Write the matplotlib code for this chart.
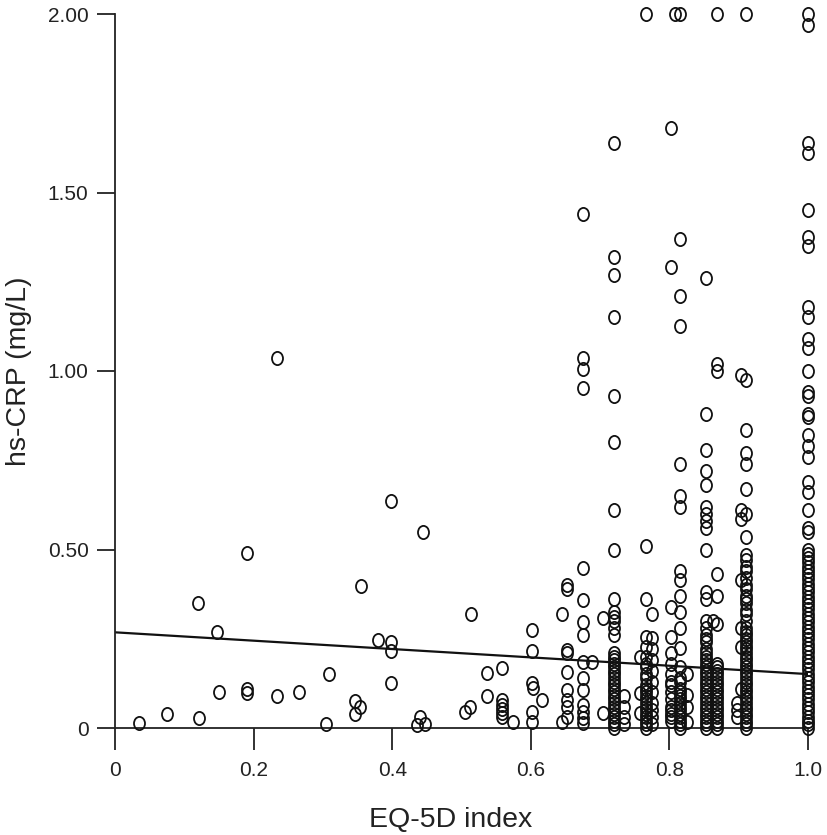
import matplotlib
matplotlib.use('Agg')
import matplotlib.pyplot as plt
from matplotlib.path import Path
from matplotlib.transforms import Affine2D
import numpy as np

plt.rcParams['font.family'] = ['Liberation Sans', 'DejaVu Sans']

# sparse points (EQ-5D index, hs-CRP)
sparse_x = [0.035, 0.075, 0.121, 0.120, 0.147, 0.150, 0.190, 0.190, 0.190, 0.234,
            0.234, 0.266, 0.304, 0.309, 0.346, 0.354, 0.346, 0.355, 0.380, 0.398,
            0.398, 0.398, 0.398, 0.436, 0.440, 0.447, 0.444, 0.505, 0.512, 0.514,
            0.537, 0.537, 0.558, 0.558, 0.558, 0.558, 0.558, 0.558, 0.574, 0.602,
            0.602, 0.602, 0.603, 0.616, 0.602, 0.602, 0.645, 0.645, 0.689, 0.704,
            0.704, 0.757, 0.757, 0.757, 0.808, 0.825, 0.825, 0.825, 0.825, 0.863,
            0.898, 0.898, 0.898, 0.904, 0.904, 0.904, 0.904, 0.904, 0.904, 0.904,
            0.735, 0.735, 0.735, 0.735]
sparse_y = [0.014, 0.039, 0.028, 0.350, 0.269, 0.101, 0.109, 0.098, 0.490, 1.036,
            0.090, 0.101, 0.011, 0.151, 0.076, 0.059, 0.039, 0.398, 0.246, 0.241,
            0.216, 0.126, 0.636, 0.008, 0.031, 0.011, 0.549, 0.045, 0.059, 0.319,
            0.154, 0.090, 0.168, 0.078, 0.064, 0.053, 0.042, 0.031, 0.017, 0.275,
            0.216, 0.126, 0.112, 0.078, 0.045, 0.017, 0.319, 0.017, 0.185, 0.308,
            0.042, 0.200, 0.098, 0.042, 2.000, 0.092, 0.017, 0.150, 0.060, 0.300,
            0.070, 0.050, 0.030, 0.990, 0.610, 0.585, 0.415, 0.280, 0.227, 0.110,
            0.090, 0.060, 0.030, 0.010]

# stacked columns at common index values
x_0652 = 0.652
y_0652 = [0.400, 0.390, 0.218, 0.210, 0.157, 0.106, 0.078, 0.059, 0.031]
x_0675 = 0.675
y_0675 = [1.440, 1.036, 1.006, 0.952, 0.448, 0.359, 0.297, 0.260, 0.185, 0.140,
          0.106, 0.064, 0.045, 0.028, 0.014]
x_0720 = 0.720
y_0720 = [1.640, 1.320, 1.270, 1.150, 0.930, 0.800, 0.610, 0.500, 0.360, 0.325,
          0.310, 0.300, 0.280, 0.260, 0.210, 0.200, 0.190, 0.180, 0.170, 0.160,
          0.150, 0.140, 0.130, 0.120, 0.110, 0.100, 0.090, 0.080, 0.070, 0.060,
          0.050, 0.040, 0.030, 0.020, 0.010, 0.000]
x_0766 = 0.766
y_0766 = [2.000, 0.510, 0.360, 0.255, 0.227, 0.200, 0.180, 0.170, 0.150, 0.140,
          0.120, 0.110, 0.100, 0.090, 0.080, 0.070, 0.060, 0.050, 0.040, 0.030,
          0.020, 0.010, 0.000]
x_0775 = 0.775
y_0775 = [0.320, 0.252, 0.220, 0.190, 0.160, 0.130, 0.100, 0.070, 0.050, 0.030,
          0.010]
x_0802 = 0.802
y_0802 = [1.680, 1.290, 0.340, 0.255, 0.210, 0.180, 0.150, 0.130, 0.120, 0.100,
          0.080, 0.060, 0.050, 0.040, 0.030, 0.020]
x_0816 = 0.816
y_0816 = [2.000, 1.370, 1.210, 1.125, 0.740, 0.650, 0.620, 0.440, 0.415, 0.370,
          0.325, 0.280, 0.225, 0.170, 0.140, 0.130, 0.110, 0.100, 0.090, 0.080,
          0.070, 0.060, 0.050, 0.040, 0.030, 0.020, 0.010, 0.000]
x_0853 = 0.853
y_0853 = [1.260, 0.880, 0.780, 0.720, 0.680, 0.620, 0.600, 0.580, 0.560, 0.500,
          0.380, 0.360, 0.300, 0.280, 0.260, 0.250, 0.240, 0.220, 0.210, 0.200,
          0.190, 0.180, 0.170, 0.160, 0.150, 0.140, 0.130, 0.120, 0.110, 0.100,
          0.090, 0.080, 0.070, 0.060, 0.050, 0.040, 0.030, 0.020, 0.010, 0.000]
x_0869 = 0.869
y_0869 = [2.000, 1.020, 1.000, 0.430, 0.370, 0.290, 0.180, 0.170, 0.160, 0.150,
          0.140, 0.130, 0.120, 0.110, 0.100, 0.090, 0.080, 0.070, 0.060, 0.050,
          0.040, 0.030, 0.020, 0.010, 0.000]
x_0910 = 0.910
y_0910 = [2.000, 0.975, 0.835, 0.770, 0.740, 0.670, 0.600, 0.535, 0.485, 0.470,
          0.450, 0.440, 0.420, 0.400, 0.390, 0.370, 0.360, 0.350, 0.330, 0.320,
          0.300, 0.280, 0.270, 0.260, 0.250, 0.240, 0.230, 0.220, 0.210, 0.200,
          0.190, 0.180, 0.170, 0.160, 0.150, 0.140, 0.130, 0.120, 0.110, 0.100,
          0.090, 0.080, 0.070, 0.060, 0.050, 0.040, 0.030, 0.020, 0.010, 0.000]
x_1000 = 1.000
y_1000 = [2.000, 1.970, 1.640, 1.610, 1.450, 1.375, 1.350, 1.180, 1.150, 1.090,
          1.065, 1.000, 0.940, 0.930, 0.880, 0.870, 0.820, 0.790, 0.760, 0.690,
          0.660, 0.610, 0.560, 0.550, 0.500, 0.488, 0.476, 0.464, 0.452, 0.440,
          0.428, 0.416, 0.404, 0.392, 0.380, 0.368, 0.356, 0.344, 0.332, 0.320,
          0.308, 0.296, 0.284, 0.272, 0.260, 0.248, 0.236, 0.224, 0.212, 0.200,
          0.188, 0.176, 0.164, 0.152, 0.140, 0.128, 0.116, 0.104, 0.092, 0.080,
          0.068, 0.056, 0.044, 0.032, 0.020, 0.010, 0.000]

# fitted regression line end points
fit_x = [0.0, 1.0]
fit_y = [0.268, 0.151]

x_ticks = [0, 0.2, 0.4, 0.6, 0.8, 1.0]
x_ticklabels = ['0', '0.2', '0.4', '0.6', '0.8', '1.0']
y_ticks = [0, 0.5, 1.0, 1.5, 2.0]
y_ticklabels = ['0', '0.50', '1.00', '1.50', '2.00']


def collect():
    columns = [(x_0652, y_0652), (x_0675, y_0675), (x_0720, y_0720),
               (x_0766, y_0766), (x_0775, y_0775), (x_0802, y_0802),
               (x_0816, y_0816), (x_0853, y_0853), (x_0869, y_0869),
               (x_0910, y_0910), (x_1000, y_1000)]
    xs = list(sparse_x)
    ys = list(sparse_y)
    for cx, cy in columns:
        xs += [cx] * len(cy)
        ys += cy
    return np.array(xs), np.array(ys)


def main():
    xs, ys = collect()

    fig = plt.figure(figsize=(8.27, 8.35), dpi=100)
    ax = fig.add_axes([115 / 827, 107 / 835, 693 / 827, 714 / 835])

    # slightly taller-than-wide open circle like the original
    circ = Path.unit_circle()
    ellipse = circ.transformed(Affine2D().scale(1.0, 1.2))

    ax.plot(xs, ys, linestyle='none', marker=ellipse, markersize=9.5,
            markerfacecolor='none', markeredgecolor='#111111',
            markeredgewidth=1.3, clip_on=False, zorder=3)
    ax.plot(fit_x, fit_y, color='#111111', linewidth=1.6, zorder=2)

    ax.set_xlim(0, 1.0)
    ax.set_ylim(0, 2.0)
    for side in ('top', 'right'):
        ax.spines[side].set_visible(False)
    for side in ('left', 'bottom'):
        ax.spines[side].set_linewidth(1.3)
        ax.spines[side].set_color('#222222')

    ax.set_xticks(x_ticks)
    ax.set_xticklabels(x_ticklabels)
    ax.set_yticks(y_ticks)
    ax.set_yticklabels(y_ticklabels)
    ax.tick_params(axis='x', direction='out', length=16, width=1.3,
                   colors='#222222', labelsize=15, pad=8)
    ax.tick_params(axis='y', direction='out', length=13, width=1.3,
                   colors='#222222', labelsize=15, pad=6)

    ax.set_xlabel('EQ-5D index', fontsize=20.5, color='#222222')
    ax.xaxis.set_label_coords(0.485, -0.110)
    ax.set_ylabel('hs-CRP (mg/L)', fontsize=20.5, color='#222222', labelpad=11)

    fig.savefig('out.png', dpi=100, facecolor='white')


if __name__ == '__main__':
    main()
